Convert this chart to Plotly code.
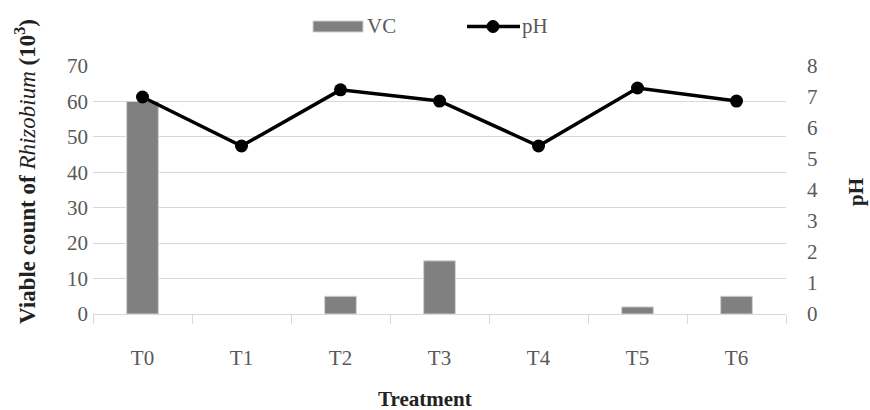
import plotly.graph_objects as go

categories = ["T0", "T1", "T2", "T3", "T4", "T5", "T6"]
vc_values = [60, 0, 5, 15, 0, 2, 5]
ph_values = [7.0, 5.42, 7.23, 6.87, 5.42, 7.29, 6.87]
left_ticks = [0, 10, 20, 30, 40, 50, 60, 70]
right_ticks = [0, 1, 2, 3, 4, 5, 6, 7, 8]

W, H = 870, 410
L, R, T, B = 93, 84, 66, 96
PW, PH = W - L - R, H - T - B


def px(x):
    return (x - L) / PW


def py(y):
    return (H - B - y) / PH


font_family = "Liberation Serif"
tick_color = "#595959"
bar_color = "#808080"

fig = go.Figure()
fig.add_trace(go.Bar(
    x=categories, y=vc_values, name="VC",
    marker=dict(color=bar_color,
                line=dict(color="#d0d0d0", width=[1 if v > 0 else 0 for v in vc_values])),
    width=0.32, yaxis="y", showlegend=False,
))
fig.add_trace(go.Scatter(
    x=categories, y=ph_values, name="pH", mode="lines+markers",
    line=dict(color="black", width=3.5),
    marker=dict(color="black", size=13),
    yaxis="y2", showlegend=False,
))

shapes = [
    dict(type="rect", xref="paper", yref="paper", x0=px(313), x1=px(363), y0=py(32), y1=py(21),
         fillcolor=bar_color, line=dict(color="#d0d0d0", width=1)),
    dict(type="line", xref="paper", yref="paper", x0=px(467), x1=px(520), y0=py(26.5), y1=py(26.5),
         line=dict(color="black", width=3.5)),
    dict(type="circle", xref="paper", yref="paper", x0=px(487), x1=px(499), y0=py(32.5), y1=py(20.5),
         fillcolor="black", line=dict(color="black", width=1)),
]

annotations = [
    dict(text="VC", xref="paper", yref="paper", x=px(365), y=py(26), xanchor="left", yanchor="middle",
         showarrow=False, font=dict(size=21, color=tick_color, family=font_family)),
    dict(text="pH", xref="paper", yref="paper", x=px(520), y=py(26), xanchor="left", yanchor="middle",
         showarrow=False, font=dict(size=21, color=tick_color, family=font_family)),
    dict(text="<b>Viable count of</b> <i>Rhizobium</i> <b>(10<sup>3</sup>)</b>", xref="paper", yref="paper",
         x=px(25), y=py(172), xanchor="center", yanchor="middle", textangle=-90,
         showarrow=False, font=dict(size=23, color="#222222", family=font_family)),
    dict(text="<b>pH</b>", xref="paper", yref="paper", x=px(856), y=py(192), xanchor="center",
         yanchor="middle", textangle=-90, showarrow=False,
         font=dict(size=21, color="#222222", family=font_family)),
    dict(text="<b>Treatment</b>", xref="paper", yref="paper", x=px(425), y=py(399), xanchor="center",
         yanchor="middle", showarrow=False, font=dict(size=21, color="#222222", family=font_family)),
]

fig.update_layout(
    width=W, height=H,
    margin=dict(l=L, r=R, t=T, b=B, autoexpand=False),
    plot_bgcolor="white", paper_bgcolor="white",
    font=dict(family=font_family, size=21, color=tick_color),
    showlegend=False,
    bargap=0.68,
    shapes=shapes,
    annotations=annotations,
    xaxis=dict(
        categoryorder="array", categoryarray=categories,
        showline=True, linecolor="#d9d9d9", linewidth=1,
        ticks="outside", tickson="boundaries", ticklen=9, tickcolor="#d9d9d9",
        tickfont=dict(size=21, color=tick_color),
        ticklabelstandoff=25, automargin=False,
    ),
    yaxis=dict(
        range=[0, 70], tickvals=left_ticks, showgrid=True, gridcolor="#d9d9d9",
        zeroline=False, tickfont=dict(size=21, color=tick_color), automargin=False,
        ticklabelstandoff=4,
    ),
    yaxis2=dict(
        range=[0, 8], tickvals=right_ticks, overlaying="y", side="right",
        showgrid=False, zeroline=False, tickfont=dict(size=21, color=tick_color),
        ticklabelstandoff=20, automargin=False,
    ),
)

fig.write_html("out.html", config={"displayModeBar": False},
               post_script="document.body.style.margin='0';document.body.style.padding='0';")
